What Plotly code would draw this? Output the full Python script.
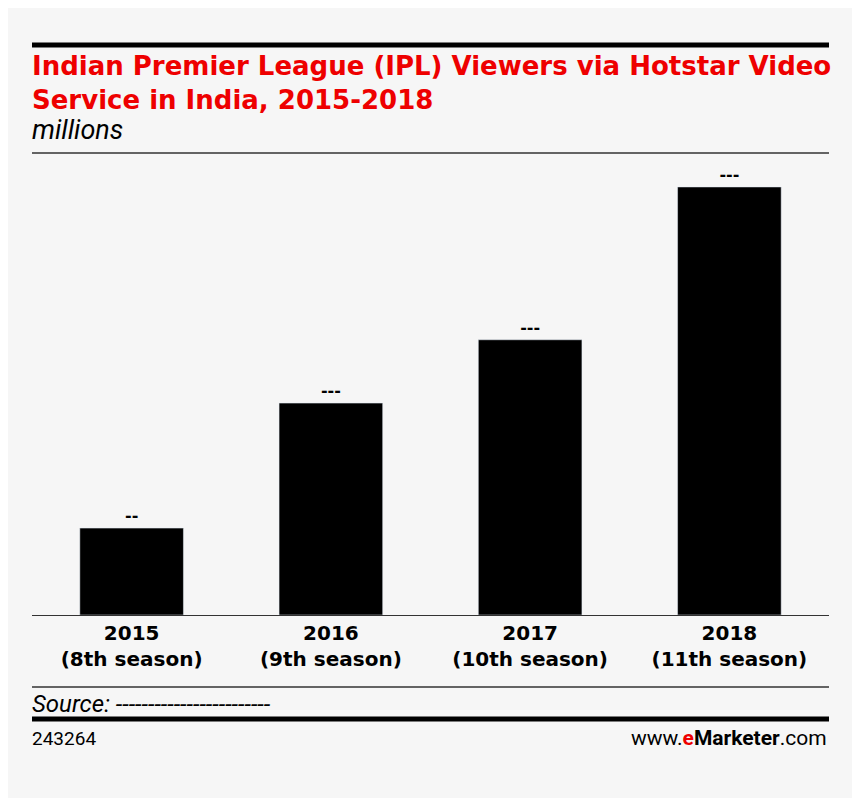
import plotly.graph_objects as go

categories = ["2015<br>(8th season)", "2016<br>(9th season)", "2017<br>(10th season)", "2018<br>(11th season)"]
values = [2.03, 4.95, 6.43, 10.0]
labels = ["--", "---", "---", "---"]

W, H = 852, 790
O = 8
L, R, T, B = 32 - O, 829 - O, 160 - O, 615 - O
def py(p):
    return (B - (p - O)) / (B - T)
def px(p):
    return ((p - O) - L) / (R - L)

fig = go.Figure(go.Bar(x=categories, y=values, marker_color="black", width=0.52,
                       text=labels, textposition="outside",
                       textfont=dict(family="DejaVu Sans", size=16, color="black", weight="bold"),
                       cliponaxis=False))
fig.update_layout(
    width=W, height=H, margin=dict(l=L, r=W - R, t=T, b=H - B),
    paper_bgcolor="#f6f6f6", plot_bgcolor="#f6f6f6", showlegend=False,
    yaxis=dict(range=[0, 10.63], visible=False),
    xaxis=dict(showline=True, linecolor="#333", linewidth=1, ticks="",
               tickfont=dict(family="DejaVu Sans", size=20, color="black", weight="bold")),
)
def line(y, w):
    fig.add_shape(type="line", xref="paper", yref="paper", x0=0, x1=1, y0=py(y), y1=py(y),
                  line=dict(color="black" if w > 2 else "#333", width=w))
line(45, 5); line(153, 1.5); line(687, 1.5); line(719, 5)
def ann(text, x, y, size, color="black", xanchor="left", family="Roboto", **kw):
    fig.add_annotation(text=text, xref="paper", yref="paper", x=px(x), y=py(y), xanchor=xanchor,
                       yanchor="middle", showarrow=False, align="left",
                       font=dict(family=family, size=size, color=color, **kw))
ann("Indian Premier League (IPL) Viewers via Hotstar Video<br>Service in India, 2015-2018", 30, 83, 26,
    color="#ee0000", family="DejaVu Sans", weight="bold")
ann("<i>millions</i>", 30, 130, 27)
ann("<i>Source: ------------------------</i>", 30, 704, 24)
ann("243264", 30, 738, 19)
ann("www.<b><span style='color:#ee0000'>e</span>Marketer</b>.com", 829, 738, 21, xanchor="right")
fig.write_html("out.html")
